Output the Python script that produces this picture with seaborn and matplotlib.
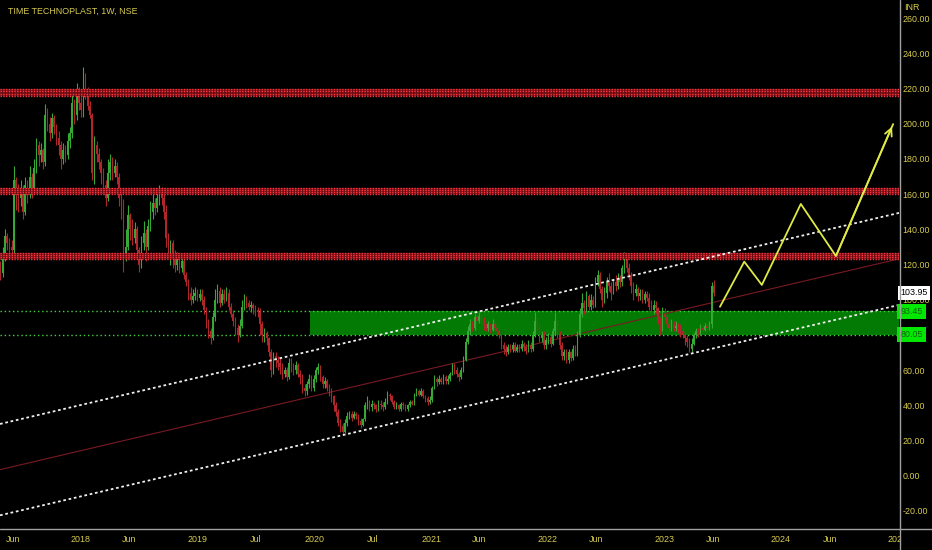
import numpy as np
import pandas as pd
import matplotlib
matplotlib.use("Agg")
import matplotlib.pyplot as plt
import matplotlib.dates as mdates
from matplotlib.lines import Line2D
from matplotlib.patches import Rectangle
import seaborn as sns

# ---------------- data (weekly candles, TIME TECHNOPLAST, NSE) ----------------
start_week = "2017-04-24"
first_open = 118
closes = [
    115,125,136,132,130,128,168,160,158,162,
    150,165,160,170,162,175,188,182,185,178,
    205,200,195,203,198,192,188,180,185,182,
    190,195,212,205,218,212,208,228,218,210,
    205,172,188,183,178,172,165,158,172,178,
    172,176,170,158,150,125,130,148,140,135,
    140,128,120,132,138,130,142,150,155,152,
    158,162,158,150,135,128,132,125,120,124,
    118,122,114,110,104,100,102,104,101,103,
    100,94,86,82,78,90,100,105,98,103,
    100,104,96,92,88,84,80,85,96,100,
    98,96,97,95,94,93,86,80,81,78,
    70,60,68,66,64,62,58,60,56,64,
    62,60,63,58,56,50,48,52,55,50,
    55,60,62,56,52,54,50,48,45,40,
    36,30,28,25,30,34,35,33,35,34,
    31,29,32,40,42,39,41,40,38,41,
    40,39,42,46,45,42,39,40,38,41,
    40,38,40,42,41,46,48,46,48,45,
    44,42,43,50,55,53,55,53,56,54,
    55,58,62,60,58,56,60,66,76,82,
    86,84,90,88,91,88,85,84,86,83,
    86,84,82,80,74,72,70,73,72,74,
    71,73,72,75,73,71,74,72,80,88,
    84,78,80,74,77,79,75,82,88,80,
    74,68,70,66,70,67,72,70,80,92,
    98,95,102,96,100,97,110,114,106,100,
    104,110,108,104,110,108,112,110,118,124,
    118,114,108,104,106,102,104,100,103,101,
    96,94,97,95,88,84,92,90,86,84,
    86,84,85,83,82,80,78,76,72,75,
    80,82,81,84,83,85,84,86,108,103.95,
]
highs = [
    122,130,140,138,135,134,176,170,166,168,
    165,170,168,176,172,180,192,190,189,186,
    211,209,204,206,205,200,196,190,189,188,
    195,198,218,214,223,221,215,232,229,221,
    213,206,193,190,186,180,175,168,180,183,
    181,180,178,172,162,157,140,154,149,146,
    144,142,130,136,145,140,146,156,160,158,
    162,165,164,160,154,138,134,134,128,127,
    126,124,123,116,112,107,106,107,106,106,
    106,102,96,89,84,93,106,109,107,106,
    106,107,106,98,94,90,86,89,100,103,
    102,100,99,98,97,96,95,88,84,82,
    79,72,70,70,68,67,64,62,62,67,
    67,64,65,64,60,58,52,54,58,57,
    57,62,64,63,57,56,55,52,50,46,
    42,38,32,30,32,36,37,37,37,36,
    35,33,33,42,45,43,43,42,41,43,
    43,42,44,48,47,46,43,42,41,42,
    42,41,41,43,43,47,50,49,50,49,
    46,45,45,51,57,56,57,56,58,57,
    57,59,64,64,62,59,62,68,78,85,
    89,88,92,93,93,92,90,87,88,87,
    89,88,86,84,81,76,74,75,75,76,
    76,75,75,77,76,75,77,76,82,93,
    90,86,82,82,79,81,80,84,93,89,
    82,76,72,72,72,71,74,74,82,95,
    104,100,105,103,103,102,113,117,116,108,
    107,113,115,110,112,114,115,114,120,127,
    126,121,116,110,109,107,106,106,105,105,
    104,100,100,99,96,90,96,95,92,89,
    89,88,88,87,86,84,82,80,78,78,
    81,84,84,86,86,87,87,88,110,111,
]
lows = [
    111,113,122,128,126,124,126,151,150,153,
    146,148,155,158,158,160,172,176,178,174,
    176,196,190,192,194,188,182,174,177,178,
    180,186,192,200,202,208,204,204,214,208,
    203,168,166,178,174,166,160,153,156,168,
    168,170,166,153,146,116,122,128,134,131,
    132,125,116,118,128,122,128,139,146,148,
    150,154,154,146,130,124,120,118,116,117,
    115,116,112,108,100,97,98,100,99,99,
    97,92,84,78,75,77,88,98,96,97,
    98,99,94,90,85,80,76,79,84,94,
    95,94,93,92,91,90,80,76,76,74,
    68,56,58,62,60,58,55,56,54,55,
    59,57,58,56,52,47,45,46,50,48,
    48,53,58,54,50,50,48,45,42,37,
    34,28,25,23,24,28,32,31,32,32,
    29,27,28,31,38,37,37,38,36,37,
    38,37,38,41,43,41,38,38,37,37,
    38,37,37,39,40,40,45,45,45,44,
    42,40,41,42,49,51,52,52,52,52,
    52,54,57,58,56,54,55,59,65,75,
    80,82,83,86,87,86,83,82,82,81,
    82,82,80,78,72,69,68,69,70,70,
    70,70,70,71,71,69,70,70,71,79,
    82,76,76,72,72,75,73,74,80,78,
    72,66,66,64,64,65,66,68,68,79,
    90,92,93,94,94,95,96,108,104,96,
    98,101,105,100,103,105,106,107,108,115,
    116,111,104,100,102,99,100,98,98,99,
    94,92,92,92,86,80,82,88,84,82,
    82,82,82,81,79,78,74,73,70,70,
    74,78,79,80,81,82,82,83,84,102,
]

# horizontal resistance bands (low, high)
band_low = [216.0, 160.0, 123.0]
band_high = [219.5, 163.3, 126.4]

# demand zone
zone_top = 93.45
zone_bottom = 80.05
zone_start = "2019-12-19"
last_price = 103.95

# parallel channel anchor points (date, value)
chan_dates = ["2017-04-23", "2025-01-04"]
chan_upper = [29.4, 149.3]
chan_lower = [-22.5, 97.0]
chan_mid = [3.45, 123.2]

# projected path
zz_dates = ["2023-06-24", "2023-09-08", "2023-11-02", "2024-03-03", "2024-06-21", "2024-12-17"]
zz_vals = [96.0, 121.6, 108.4, 154.4, 124.8, 199.8]

# x tick labels
xtick_dates = ["2017-06-01", "2018-01-01", "2018-06-01", "2019-01-01", "2019-07-01",
               "2020-01-01", "2020-07-01", "2021-01-01", "2021-06-01", "2022-01-01",
               "2022-06-01", "2023-01-01", "2023-06-01", "2024-01-01", "2024-06-01",
               "2025-01-01"]
xtick_labels = ["Jun", "2018", "Jun", "2019", "Jul", "2020", "Jul", "2021", "Jun",
                "2022", "Jun", "2023", "Jun", "2024", "Jun", "2025"]
yticks = [-20, 0, 20, 40, 60, 80, 100, 120, 140, 160, 180, 200, 220, 240, 260]

# ---------------- styling ----------------
sns.set_style("dark")
plt.rcParams["font.family"] = ["Liberation Sans", "DejaVu Sans"]
YEL = "#d8cc4e"
GREEN = "#35a835"
RED = "#b0262b"
FS = 6.4

W, H = 932, 550
fig = plt.figure(figsize=(W / 100, H / 100), dpi=100, facecolor="black")
ax = fig.add_axes([0, 21 / H, 899 / W, 529 / H])
ax.set_facecolor("black")
for s in ax.spines.values():
    s.set_visible(False)
ax.grid(False)

def dn(d):
    return mdates.date2num(pd.Timestamp(d))

x0 = dn("2018-01-01") - 81 / 0.31949
x1 = dn("2018-01-01") + (899 - 81) / 0.31949
ax.set_xlim(x0, x1)
ax.set_ylim(-30.3, 270.3)

# candles
dates = mdates.date2num(pd.date_range(start_week, periods=len(closes), freq="7D"))
opens = [first_open] + closes[:-1]
df = pd.DataFrame({"x": dates, "open": opens, "close": closes, "high": highs, "low": lows})
up = df["close"] >= df["open"]
cols = np.where(up, GREEN, RED)
ax.vlines(df["x"], df["low"], df["high"], colors=cols, lw=0.8, zorder=3)
body_lo = np.minimum(df["open"], df["close"])
body_h = np.abs(df["close"] - df["open"]).clip(lower=0.4)
ax.bar(df["x"], body_h, bottom=body_lo, width=4.5, color=cols, linewidth=0, zorder=3)

# demand zone
zs = dn(zone_start)
ax.add_patch(Rectangle((zs, zone_bottom), x1 - zs, zone_top - zone_bottom,
                       facecolor="#037a03", edgecolor="none", zorder=1))
for v in (zone_top, zone_bottom):
    ax.axhline(v, color="#3fd43f", lw=1.0, ls=(0, (1, 2)), zorder=2)

# resistance bands
for lo, hi in zip(band_low, band_high):
    ax.axhspan(lo, hi, color="#6a0c12", lw=0, zorder=4)
    for lv in np.linspace(lo, hi, 4):
        ax.axhline(lv, color="#ff3540", lw=1.0, ls=(0, (1, 1)), zorder=4)

# channel
cx = [dn(d) for d in chan_dates]
ax.axline((cx[0], chan_upper[0]), (cx[1], chan_upper[1]), color="#f0f0f0", lw=1.3,
          ls=(0, (1.5, 1.5)), zorder=5)
ax.axline((cx[0], chan_lower[0]), (cx[1], chan_lower[1]), color="#f0f0f0", lw=1.3,
          ls=(0, (1.5, 1.5)), zorder=5)
ax.axline((cx[0], chan_mid[0]), (cx[1], chan_mid[1]), color="#7a1a22", lw=0.8, zorder=2)

# projected zigzag
zx = [dn(d) for d in zz_dates]
sns.lineplot(x=zx, y=zz_vals, ax=ax, color="#e0ea45", lw=1.3, sort=False,
             estimator=None, zorder=6)
ax.annotate("", xy=(zx[-1], zz_vals[-1]), xytext=(zx[-2], zz_vals[-2]),
            arrowprops=dict(arrowstyle="->", color="#e0ea45", lw=1.3, mutation_scale=13),
            zorder=6)

# axes ticks
ax.yaxis.tick_right()
ax.set_yticks(yticks)
ax.set_yticklabels([f"{v:.2f}" for v in yticks])
ax.set_xticks([dn(d) for d in xtick_dates])
ax.set_xticklabels(xtick_labels)
ax.tick_params(axis="y", length=0, pad=2.5, labelsize=FS, labelcolor=YEL)
ax.tick_params(axis="x", length=0, pad=4, labelsize=FS, labelcolor=YEL)
ax.set_xlabel("")
ax.set_ylabel("")

# price labels on axis
tr = ax.get_yaxis_transform()
ax.text(1.0015, last_price, f"{last_price:.2f}", transform=tr, ha="left", va="center",
        fontsize=FS, color="black", clip_on=False, zorder=10,
        bbox=dict(boxstyle="square,pad=0.3", facecolor="white", edgecolor="none"))
for v in (zone_top, zone_bottom):
    ax.text(1.0015, v, f"{v:.2f}", transform=tr, ha="left",
            va="center", fontsize=FS, color="#136013", clip_on=False, zorder=10,
            bbox=dict(boxstyle="square,pad=0.35", facecolor="#00e800", edgecolor="none"))

# cover right part of time axis, frame lines
fig.patches.append(Rectangle((900 / W, 0), 32 / W, 21 / H, transform=fig.transFigure,
                             facecolor="black", edgecolor="none", zorder=5))
fig.lines.append(Line2D([0, 1], [21 / H, 21 / H], transform=fig.transFigure,
                        color="#a0a0a0", lw=1.0, zorder=6))
fig.lines.append(Line2D([899.5 / W, 899.5 / W], [0, 1], transform=fig.transFigure,
                        color="#a0a0a0", lw=1.0, zorder=6))

fig.text(8 / W, 1 - 11 / H, "TIME TECHNOPLAST, 1W, NSE", color=YEL, fontsize=FS,
         ha="left", va="center")
fig.text(904 / W, 1 - 8 / H, "INR", color=YEL, fontsize=FS, ha="left", va="center")

fig.savefig("out.png", dpi=100, facecolor="black")
